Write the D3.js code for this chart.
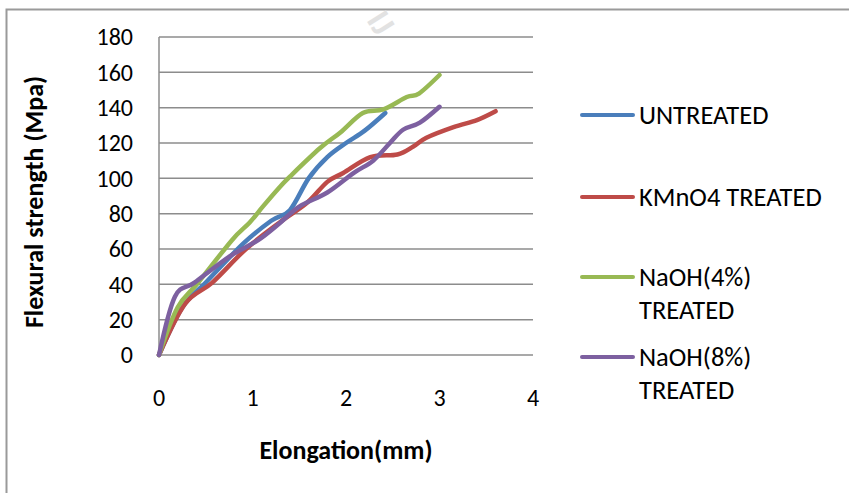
<!DOCTYPE html>
<html>
<head>
<meta charset="utf-8">
<script src="https://cdn.jsdelivr.net/npm/d3@7"></script>
<style>
    body { margin: 0; background: #fff; }
    #chart { width: 849px; height: 493px; }
    text { font-family: Carlito, Lato, "Open Sans", sans-serif; fill: #000; }
    .axis-title { font-weight: bold; font-size: 26px; }
    .tick-label { font-size: 24px; }
    .legend-label { font-size: 26.5px; }
</style>
</head>
<body>
<div id="chart"></div>
<script>

// series data: [elongation (mm), flexural strength (Mpa)]
const seriesNames = ["UNTREATED", "KMnO4 TREATED", "NaOH(4%) TREATED", "NaOH(8%) TREATED"];
const seriesColors = ["#4a7ebb", "#be4b48", "#98b954", "#7d60a0"];

const untreated = [[0, 0], [0.25, 27], [0.5, 41], [0.9, 63], [1.2, 76], [1.4, 82], [1.6, 100],
    [1.8, 112], [2.0, 120], [2.2, 127], [2.42, 137]];
const kmno4 = [[0, 0], [0.28, 29], [0.57, 41], [0.93, 60], [1.29, 75], [1.58, 86], [1.8, 98],
    [1.97, 103], [2.26, 112], [2.55, 113.5], [2.72, 118], [2.86, 123], [3.15, 129], [3.4, 133], [3.6, 138]];
const naoh4 = [[0, 0], [0.2, 27], [0.42, 41], [0.78, 65], [0.97, 75], [1.11, 84], [1.29, 95],
    [1.4, 101], [1.72, 117], [1.94, 126], [2.18, 137], [2.4, 139], [2.65, 146], [2.78, 148], [3.0, 158.5]];
const naoh8 = [[0, 0], [0.17, 33], [0.38, 41], [0.76, 56], [1.06, 65], [1.3, 75], [1.5, 84],
    [1.8, 92], [2.08, 103], [2.29, 110], [2.47, 120], [2.61, 127.5], [2.79, 131.5], [3.0, 140.5]];

const xTicks = [0, 1, 2, 3, 4];
const yTicks = [0, 20, 40, 60, 80, 100, 120, 140, 160, 180];

const allSeries = [untreated, kmno4, naoh4, naoh8];

let vis = {};
vis.margin = {top: 37, left: 159};
vis.width = 374;
vis.height = 318;

vis.svg = d3.select("#chart").append("svg")
    .attr("width", 849)
    .attr("height", 493);

// outer frame of the pasted chart
vis.svg.append("path")
    .attr("d", "M6.5,493 V9.5 H849")
    .attr("fill", "none")
    .attr("stroke", "#9a9a9a")
    .attr("stroke-width", 2);

// faint watermark near the top
vis.svg.append("text")
    .attr("transform", "translate(366,20) rotate(58)")
    .attr("font-size", 34)
    .attr("font-weight", "bold")
    .style("fill", "#e2e2e2")
    .text("IJ");

vis.g = vis.svg.append("g")
    .attr("transform", "translate(" + vis.margin.left + "," + vis.margin.top + ")");

// scales
vis.x = d3.scaleLinear().domain([0, 4]).range([0, vis.width]);
vis.y = d3.scaleLinear().domain([0, 180]).range([vis.height, 0]);

// horizontal gridlines
vis.g.selectAll("line.grid")
    .data(yTicks)
    .enter().append("line")
    .attr("class", "grid")
    .attr("x1", 0)
    .attr("x2", vis.width)
    .attr("y1", d => vis.y(d))
    .attr("y2", d => vis.y(d))
    .attr("stroke", "#8c8c8c")
    .attr("stroke-width", 1.5);

// axis lines
vis.g.append("line")
    .attr("x1", 0).attr("x2", 0)
    .attr("y1", 0).attr("y2", vis.height)
    .attr("stroke", "#8c8c8c")
    .attr("stroke-width", 1.5);

// tick labels
vis.g.selectAll("text.ytick")
    .data(yTicks)
    .enter().append("text")
    .attr("class", "tick-label ytick")
    .attr("x", -26)
    .attr("y", d => vis.y(d))
    .attr("dy", "0.35em")
    .attr("text-anchor", "end")
    .text(d => d);

vis.g.selectAll("text.xtick")
    .data(xTicks)
    .enter().append("text")
    .attr("class", "tick-label xtick")
    .attr("x", d => vis.x(d))
    .attr("y", vis.height + 43)
    .attr("dy", "0.35em")
    .attr("text-anchor", "middle")
    .text(d => d);

// axis titles
vis.g.append("text")
    .attr("class", "axis-title")
    .attr("x", vis.x(2))
    .attr("y", vis.height + 95)
    .attr("dy", "0.35em")
    .attr("text-anchor", "middle")
    .text("Elongation(mm)");

vis.svg.append("text")
    .attr("class", "axis-title")
    .attr("transform", "translate(34," + (vis.margin.top + vis.height / 2 + 6) + ") rotate(-90)")
    .attr("dy", "0.35em")
    .attr("text-anchor", "middle")
    .text("Flexural strength (Mpa)");

// smoothed lines
vis.line = d3.line()
    .x(d => vis.x(d[0]))
    .y(d => vis.y(d[1]))
    .curve(d3.curveCardinal.tension(0));

vis.g.selectAll("path.series")
    .data(allSeries)
    .enter().append("path")
    .attr("class", "series")
    .attr("d", vis.line)
    .attr("fill", "none")
    .attr("stroke", (d, i) => seriesColors[i])
    .attr("stroke-width", 4.5)
    .attr("stroke-linecap", "round")
    .attr("stroke-linejoin", "round");

// legend
const legendRows = [[115], [197], [277, 310], [357, 390]];
const legendLines = [["UNTREATED"], ["KMnO4 TREATED"], ["NaOH(4%)", "TREATED"], ["NaOH(8%)", "TREATED"]];

vis.legend = vis.svg.append("g").attr("class", "legend");

seriesNames.forEach(function(name, i) {
    let rows = legendRows[i];
    vis.legend.append("line")
        .attr("x1", 582).attr("x2", 633)
        .attr("y1", rows[0]).attr("y2", rows[0])
        .attr("stroke", seriesColors[i])
        .attr("stroke-width", 4)
        .attr("stroke-linecap", "round");
    legendLines[i].forEach(function(t, j) {
        vis.legend.append("text")
            .attr("class", "legend-label")
            .attr("x", 639)
            .attr("y", rows[j])
            .attr("dy", "0.35em")
            .text(t);
    });
});

</script>
</body>
</html>
